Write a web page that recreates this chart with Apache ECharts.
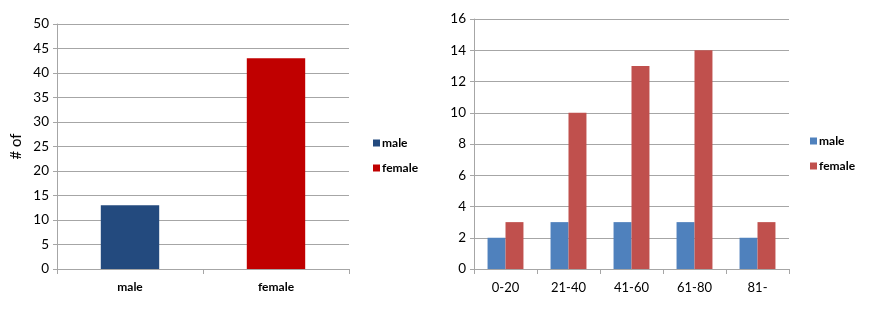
<!DOCTYPE html>
<html>
<head>
<meta charset="utf-8">
<script src="https://cdn.jsdelivr.net/npm/echarts@6/dist/echarts.min.js"></script>
<style>
  html, body { margin: 0; padding: 0; background: #fff; }
  #chart { width: 875px; height: 319px; }
</style>
</head>
<body>
<div id="chart"></div>
<script>
// left chart: totals by sex
var sexCategories = ["male", "female"];
var sexMale = [13, "-"];
var sexFemale = ["-", 43];

// right chart: by age group
var ageCategories = ["0-20", "21-40", "41-60", "61-80", "81-"];
var ageMale = [2, 3, 3, 3, 2];
var ageFemale = [3, 10, 13, 14, 3];

var font = "Lato, 'Open Sans', sans-serif";
var gridColor = "#a6a6a6";

var chart = echarts.init(document.getElementById("chart"));
chart.setOption({
  animation: false,
  textStyle: { fontFamily: font },
  legend: [
    {
      left: 368,
      top: 132,
      orient: "vertical",
      itemGap: 13,
      itemWidth: 7,
      itemHeight: 7,
      icon: "rect",
      textStyle: { fontSize: 12, fontWeight: "bold", color: "#000", padding: [0, 0, 0, -3] },
      data: [
        { name: "male", itemStyle: { color: "#234A7E" } },
        { name: "female", itemStyle: { color: "#C00000" } }
      ]
    },
    {
      left: 805,
      top: 130,
      orient: "vertical",
      itemGap: 13,
      itemWidth: 7,
      itemHeight: 7,
      icon: "rect",
      textStyle: { fontSize: 12, fontWeight: "bold", color: "#000", padding: [0, 0, 0, -3] },
      data: [
        { name: "male ", itemStyle: { color: "#4F81BD" } },
        { name: "female ", itemStyle: { color: "#C0504D" } }
      ]
    }
  ],
  grid: [
    { left: 57, top: 24, width: 292, height: 245 },
    { left: 474, top: 19, width: 315, height: 250 }
  ],
  xAxis: [
    {
      gridIndex: 0,
      type: "category",
      data: sexCategories,
      axisLine: { lineStyle: { color: gridColor } },
      axisTick: { show: true, length: 5, lineStyle: { color: gridColor } },
      axisLabel: { fontSize: 12, fontWeight: "bold", color: "#000", margin: 12 }
    },
    {
      gridIndex: 1,
      type: "category",
      data: ageCategories,
      axisLine: { lineStyle: { color: gridColor } },
      axisTick: { show: true, length: 5, lineStyle: { color: gridColor } },
      axisLabel: { fontSize: 13, color: "#000", margin: 12 }
    }
  ],
  yAxis: [
    {
      gridIndex: 0,
      type: "value",
      min: 0,
      max: 50,
      interval: 5,
      name: "# of",
      nameLocation: "middle",
      nameGap: 33,
      nameTextStyle: { fontSize: 15, color: "#000" },
      axisLine: { show: true, lineStyle: { color: gridColor } },
      axisTick: { show: true, length: 4, lineStyle: { color: gridColor } },
      axisLabel: { fontSize: 13.5, color: "#000", margin: 8 },
      splitLine: { lineStyle: { color: gridColor } }
    },
    {
      gridIndex: 1,
      type: "value",
      min: 0,
      max: 16,
      interval: 2,
      axisLine: { show: true, lineStyle: { color: gridColor } },
      axisTick: { show: true, length: 4, lineStyle: { color: gridColor } },
      axisLabel: { fontSize: 13.5, color: "#000", margin: 8 },
      splitLine: { lineStyle: { color: gridColor } }
    }
  ],
  series: [
    {
      name: "male",
      type: "bar",
      xAxisIndex: 0,
      yAxisIndex: 0,
      stack: "sex",
      barWidth: "40%",
      data: sexMale,
      itemStyle: { color: "#234A7E" }
    },
    {
      name: "female",
      type: "bar",
      xAxisIndex: 0,
      yAxisIndex: 0,
      stack: "sex",
      barWidth: "40%",
      data: sexFemale,
      itemStyle: { color: "#C00000" }
    },
    {
      name: "male ",
      type: "bar",
      xAxisIndex: 1,
      yAxisIndex: 1,
      barGap: "0%",
      barCategoryGap: "43%",
      data: ageMale,
      itemStyle: { color: "#4F81BD" }
    },
    {
      name: "female ",
      type: "bar",
      xAxisIndex: 1,
      yAxisIndex: 1,
      barGap: "0%",
      barCategoryGap: "43%",
      data: ageFemale,
      itemStyle: { color: "#C0504D" }
    }
  ]
});
</script>
</body>
</html>
